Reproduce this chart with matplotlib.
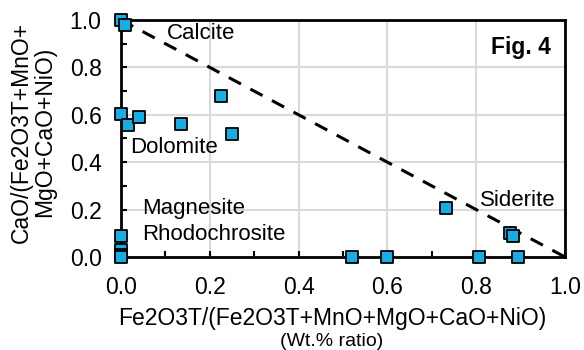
import matplotlib.pyplot as plt
import numpy as np

plt.rcParams['font.family'] = ['Liberation Sans', 'DejaVu Sans']

# Fe2O3T/(sum) ratio and CaO/(sum) ratio for each sample
fe_ratio = [0.0, 0.01, 0.0, 0.015, 0.04, 0.136, 0.225, 0.25,
            0.0, 0.0, 0.0, 0.0,
            0.52, 0.60, 0.806, 0.894, 0.732, 0.875, 0.883]
ca_ratio = [1.0, 0.98, 0.605, 0.557, 0.59, 0.561, 0.68, 0.52,
            0.088, 0.03, 0.01, 0.0,
            0.0, 0.0, 0.0, 0.0, 0.205, 0.10, 0.09]

# calcite - siderite join
join_x = [0.0, 1.0]
join_y = [1.0, 0.0]

fig = plt.figure(figsize=(5.84, 3.5), dpi=100)
ax = fig.add_axes([121/584, 1 - 257/350, 444/584, 237/350])

ax.plot(join_x, join_y, color='black', ls=(0, (4.5, 3.5)), lw=2.2, zorder=2)
ax.scatter(fe_ratio, ca_ratio, marker='s', s=75, color='#19aee3',
           edgecolor='black', linewidth=1.3, zorder=3, clip_on=False)

ax.set_xlim(0, 1)
ax.set_ylim(0, 1)
ticks = np.arange(0, 1.01, 0.2)
ax.set_xticks(ticks)
ax.set_yticks(ticks)
ax.set_xticklabels(['%.1f' % t for t in ticks])
ax.set_yticklabels(['%.1f' % t for t in ticks])
ax.set_xticks(np.arange(0.1, 1.0, 0.2), minor=True)
ax.set_yticks(np.arange(0.1, 1.0, 0.2), minor=True)
ax.tick_params(which='both', direction='in', length=4, width=1.5, colors='black')
ax.tick_params(axis='x', labelsize=16.5, pad=14)
ax.tick_params(axis='y', labelsize=16.5, pad=14)
for sp in ax.spines.values():
    sp.set_linewidth(2)
    sp.set_color('black')
ax.set_axisbelow(True)
ax.xaxis.grid(True, which='major', color='#d9d9d9', lw=1.5)
ax.yaxis.grid(True, which='major', color='#d9d9d9', lw=1.5)

ax.text(0.104, 0.945, 'Calcite', fontsize=16, va='center')
ax.text(0.02, 0.464, 'Dolomite', fontsize=16, va='center')
ax.text(0.047, 0.203, 'Magnesite', fontsize=16, va='center')
ax.text(0.047, 0.097, 'Rhodochrosite', fontsize=16, va='center')
ax.text(0.809, 0.24, 'Siderite', fontsize=16, va='center')
ax.text(0.968, 0.886, 'Fig. 4', fontsize=16.5, fontweight='bold', ha='right', va='center')

fig.text(332/584, 1 - 318/350, 'Fe2O3T/(Fe2O3T+MnO+MgO+CaO+NiO)',
         fontsize=16.5, ha='center', va='center')
fig.text(332/584, 1 - 342/350, '(Wt.% ratio)',
         fontsize=14, ha='center', va='center')
fig.text(33/584, 1 - 132/350, 'CaO/(Fe2O3T+MnO+\nMgO+CaO+NiO)', fontsize=16.5,
         rotation=90, ha='center', va='center', linespacing=1.0)

fig.savefig('out.png', dpi=100)
